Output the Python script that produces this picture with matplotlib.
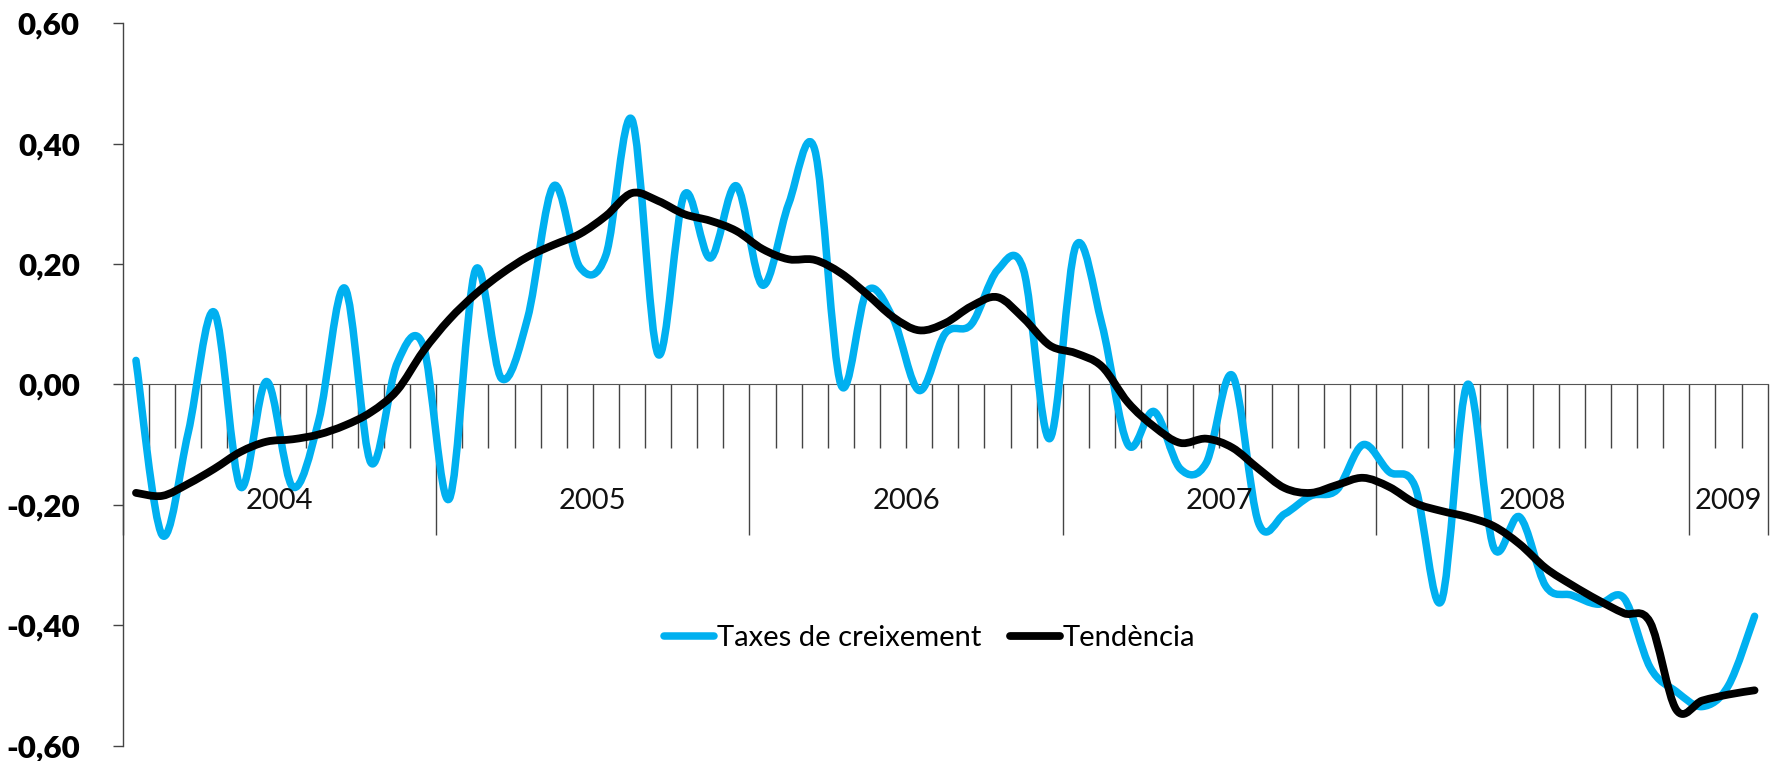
# Taxes de creixement i tendència, mensual 2004 - març 2009
import numpy as np
import matplotlib.pyplot as plt
from matplotlib.path import Path
from matplotlib.patches import PathPatch
from matplotlib.lines import Line2D
from matplotlib.ticker import FuncFormatter

# dades mensuals (gener 2004 - març 2009)
taxes = [0.04, -0.25, -0.08, 0.12, -0.17, 0.005, -0.17, -0.06, 0.16, -0.13, 0.035, 0.065,
         -0.19, 0.19, 0.01, 0.11, 0.33, 0.195, 0.215, 0.44, 0.05, 0.315, 0.21, 0.33,
         0.165, 0.30, 0.39, 0.0, 0.155, 0.11, -0.01, 0.085, 0.10, 0.19, 0.19, -0.09,
         0.23, 0.10, -0.10, -0.045, -0.14, -0.13, 0.015, -0.23, -0.215, -0.185, -0.175, -0.10,
         -0.145, -0.17, -0.36, 0.0, -0.27, -0.22, -0.335, -0.35, -0.365, -0.355, -0.47, -0.51,
         -0.535, -0.50, -0.385]
tendencia = [-0.18, -0.185, -0.165, -0.14, -0.112, -0.095, -0.091, -0.083, -0.068, -0.046, -0.01, 0.055,
             0.108, 0.15, 0.184, 0.212, 0.232, 0.25, 0.28, 0.318, 0.305, 0.283, 0.272, 0.255,
             0.225, 0.208, 0.207, 0.185, 0.15, 0.112, 0.09, 0.102, 0.13, 0.145, 0.11, 0.065,
             0.052, 0.03, -0.03, -0.07, -0.097, -0.09, -0.105, -0.14, -0.172, -0.18, -0.167, -0.155,
             -0.17, -0.197, -0.21, -0.22, -0.235, -0.265, -0.305, -0.333, -0.358, -0.38, -0.395, -0.54,
             -0.525, -0.515, -0.508]
anys = ['2004', '2005', '2006', '2007', '2008', '2009']
mesos_any = [12, 12, 12, 12, 12, 3]
yticks = [-0.6, -0.4, -0.2, 0.0, 0.2, 0.4, 0.6]

blau = '#00B0F0'
x = np.arange(len(taxes)) + 0.5


def smooth_path(xs, ys):
    # corba suau tipus Excel (Catmull-Rom en Bezier)
    pts = np.column_stack([xs, ys])
    n = len(pts)
    verts = [pts[0]]
    codes = [Path.MOVETO]
    for i in range(n - 1):
        p0 = pts[max(i - 1, 0)]
        p1 = pts[i]
        p2 = pts[i + 1]
        p3 = pts[min(i + 2, n - 1)]
        verts += [p1 + (p2 - p0) / 6, p2 - (p3 - p1) / 6, p2]
        codes += [Path.CURVE4] * 3
    return Path(verts, codes)


plt.rcParams['font.family'] = ['Lato', 'DejaVu Sans']
fig = plt.figure(figsize=(17.79, 7.61), dpi=100)
ax = fig.add_axes([0.0691, 0.0201, 0.9245, 0.9493])

ax.add_patch(PathPatch(smooth_path(x, taxes), fill=False, edgecolor=blau,
                       lw=5.4, capstyle='round', joinstyle='round', zorder=3))
ax.add_patch(PathPatch(smooth_path(x, tendencia), fill=False, edgecolor='black',
                       lw=5.6, capstyle='round', joinstyle='round', zorder=4))

ax.set_xlim(0, len(taxes))
ax.set_ylim(-0.6, 0.6)

for s in ['top', 'right']:
    ax.spines[s].set_visible(False)
ax.spines['bottom'].set_position(('data', 0))
ax.spines['bottom'].set_color('#555555')
ax.spines['left'].set_color('#444444')
ax.spines['left'].set_linewidth(1.0)

limits = np.concatenate([[0], np.cumsum(mesos_any)])
ax.set_xticks(limits)
ax.set_xticks(np.arange(len(taxes) + 1), minor=True)
ax.tick_params(axis='x', which='major', direction='out', length=109, width=1.0,
               color='#444444', labelbottom=False)
ax.tick_params(axis='x', which='minor', direction='out', length=46, width=1.0,
               color='#444444')

ax.set_yticks(yticks)
ax.yaxis.set_major_formatter(FuncFormatter(lambda v, p: f'{v:.2f}'.replace('.', ',')))
ax.tick_params(axis='y', direction='out', length=7, width=1.0, color='#444444',
               pad=24, labelsize=22.5)
for lab in ax.get_yticklabels():
    lab.set_fontweight('heavy')

for i, a in enumerate(anys):
    centre = (limits[i] + limits[i + 1]) / 2
    ax.text(centre, -0.193, a, ha='center', va='center', fontsize=21, color='#111111')

handles = [Line2D([], [], color=blau, lw=5.4, solid_capstyle='round'),
           Line2D([], [], color='black', lw=5.6, solid_capstyle='round')]
ax.legend(handles, ['Taxes de creixement', 'Tendència'], loc='center',
          bbox_to_anchor=(0.4907, 0.149), ncol=2, frameon=False, fontsize=21,
          handlelength=1.7, handletextpad=0.1, columnspacing=1.0)

fig.savefig('out.png', dpi=100)
